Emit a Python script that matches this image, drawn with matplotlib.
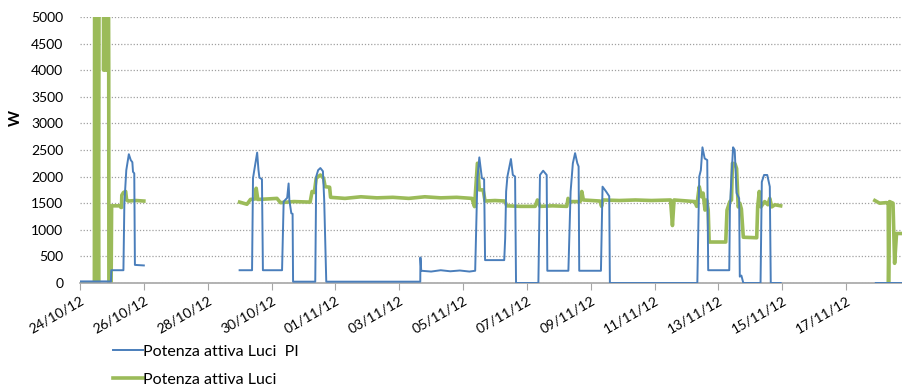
import matplotlib.pyplot as plt
import matplotlib.dates as mdates
import numpy as np
import pandas as pd

start = pd.Timestamp('2012-10-24')
nan = np.nan

# time in days since 24/10/12 00:00, NaN marks gaps in the logging
luci_pi_days = [0.0, 0.97, 0.98, 1.36, 1.39, 1.45, 1.53, 1.59, 1.64, 1.66, 1.70, 1.72, 2.00,
                nan,
                5.00, 5.39, 5.42, 5.46, 5.55, 5.59, 5.62, 5.70, 5.73, 6.33, 6.38, 6.49, 6.535, 6.56,
                6.62, 6.66, 6.675, 7.37, 7.40, 7.46, 7.53, 7.61, 7.65, 7.715, 10.66, 10.665, 10.69,
                11.0, 11.3, 11.6, 11.9, 12.2, 12.38, 12.45, 12.51, 12.59, 12.66, 12.69, 13.29, 13.32,
                13.35, 13.39, 13.50, 13.56, 13.63, 13.66, 14.36, 14.41, 14.51, 14.62, 14.64, 15.30,
                15.37, 15.44, 15.51, 15.58, 15.62, 15.64, 16.32, 16.37, 16.48, 16.58, 16.60, 19.34,
                19.40, 19.45, 19.50, 19.57, 19.65, 19.68, 20.34, 20.36, 20.41, 20.46, 20.51, 20.57,
                20.65, 20.67, 20.72, 20.78, 21.32, 21.36, 21.43, 21.53, 21.61, 21.64, 21.95,
                nan,
                24.93, 26.0]
luci_pi_w = [30, 30, 240, 240, 1500, 2120, 2420, 2310, 2270, 2090, 2060, 340, 330,
             nan,
             240, 240, 1970, 2120, 2450, 2130, 1980, 1950, 240, 240, 1530, 1600, 1870, 1550,
             1310, 1300, 25, 25, 2000, 2120, 2160, 2100, 1560, 25, 25, 480, 230,
             215, 240, 220, 235, 215, 230, 1970, 2360, 1970, 1950, 430, 430, 840,
             1720, 2000, 2330, 2030, 2000, 0, 0, 2030, 2110, 2030, 230, 230,
             1720, 2250, 2440, 2250, 2190, 230, 230, 1810, 1720, 1630, 0, 0,
             2000, 2120, 2550, 2340, 2310, 240, 240, 1400, 2000, 2550, 2500, 1690,
             1590, 120, 140, 0, 0, 1900, 2030, 2030, 1810, 0, 0,
             nan,
             0, 0]

luci_days = [0.0, 0.45, 0.46, 0.50, 0.54, 0.58, 0.60, 0.73, 0.74, 0.77, 0.80, 0.83, 0.86,
             0.885, 0.90, 0.905, 0.975, 0.99, 1.27, 1.28, 1.30, 1.31, 1.36, 1.43, 1.46, 1.51,
             1.75, 2.00,
             nan,
             5.00, 5.23, 5.34, 5.49, 5.52, 5.57, 5.9, 6.17, 6.28, 6.7, 7.21, 7.27, 7.34, 7.40,
             7.53, 7.63, 7.68, 7.82, 7.85, 8.3, 8.8, 9.3, 9.8, 10.3, 10.8, 11.3, 11.8, 12.28,
             12.36, 12.45, 12.51, 12.63, 12.69, 13.0, 13.31, 13.37, 13.8, 14.26, 14.33, 14.41,
             14.8, 15.25, 15.29, 15.35, 15.67, 15.72, 15.77, 16.29, 16.34, 16.38, 16.9, 17.4,
             17.9, 18.50, 18.56, 18.61, 19.26, 19.32, 19.40, 19.47, 19.52, 19.58, 19.63, 19.68,
             19.71, 20.23, 20.27, 20.36, 20.41, 20.44, 20.52, 20.57, 20.62, 20.67, 20.72, 20.78,
             21.20, 21.23, 21.28, 21.33, 21.45, 21.55, 21.61, 21.67, 21.77, 21.95,
             nan,
             24.90, 25.05, 25.26, 25.32, 25.33, 25.36, 25.47, 25.52, 25.58, 26.0]
luci_w = [0, 0, 7000, 0, 7000, 0, 7000, 7000, 4000, 7000, 4000, 7000, 4000,
          7000, 4000, 0, 0, 1450, 1450, 1420, 1420, 1650, 1700, 1720, 1560, 1540,
          1550, 1540,
          nan,
          1520, 1480, 1570, 1580, 1780, 1570, 1580, 1590, 1510, 1530, 1520, 1720, 1700, 1970,
          2030, 1970, 1810, 1800, 1610, 1590, 1620, 1600, 1610, 1590, 1620, 1600, 1610, 1590,
          1435, 2250, 1750, 1750, 1540, 1550, 1540, 1450, 1440, 1440, 1560, 1440,
          1450, 1440, 1590, 1530, 1530, 1720, 1560, 1540, 1440, 1560, 1550, 1560,
          1550, 1560, 1080, 1560, 1530, 1440, 1810, 1620, 1690, 1370, 1560, 1370,
          770, 770, 1370, 1530, 1560, 2250, 2240, 2150, 1430, 1500, 1390, 860,
          850, 1430, 1720, 1430, 1530, 1470, 1590, 1430, 1470, 1450,
          nan,
          1550, 1500, 1510, 1500, 0, 1530, 1500, 370, 930, 930]

tick_labels = ['24/10/12', '26/10/12', '28/10/12', '30/10/12', '01/11/12', '03/11/12',
               '05/11/12', '07/11/12', '09/11/12', '11/11/12', '13/11/12', '15/11/12',
               '17/11/12']

plt.rcParams['font.family'] = ['Lato', 'DejaVu Sans']

t0 = mdates.date2num(start)
x_pi = t0 + np.array(luci_pi_days)
x_luci = t0 + np.array(luci_days)

fig = plt.figure(figsize=(9.03, 3.89), dpi=100)
ax = fig.add_axes([0.0886, 0.2725, 0.912, 0.684])

ax.plot(x_pi, luci_pi_w, color='#4a7ebb', lw=1.4, label='Potenza attiva Luci  PI', zorder=3)
ax.plot(x_luci, luci_w, color='#9bbb59', lw=2.6, label='Potenza attiva Luci', zorder=2)

ax.set_ylim(0, 5000)
ax.set_xlim(t0, t0 + 25.8)
ax.set_yticks(np.arange(0, 5001, 500))
ax.yaxis.grid(True, color='#a0a0a0', linestyle=(0, (1, 1.5)), linewidth=0.9)
ax.set_axisbelow(True)

tick_pos = [mdates.date2num(pd.to_datetime(s, format='%d/%m/%y')) for s in tick_labels]
ax.set_xticks(tick_pos)
ax.set_xticklabels(tick_labels, rotation=30, ha='right', rotation_mode='anchor')

for side in ['left', 'right', 'top']:
    ax.spines[side].set_visible(False)
ax.spines['bottom'].set_color('#a6a6a6')
ax.spines['bottom'].set_linewidth(1.2)
ax.tick_params(axis='x', length=5, color='#a6a6a6', labelsize=10, pad=3)
ax.tick_params(axis='y', length=0, labelsize=10, pad=12)

ax.set_ylabel('W', fontsize=11, fontweight='bold')
ax.yaxis.set_label_coords(-0.069, 0.62)

fig.legend(loc='upper left', bbox_to_anchor=(0.118, 0.13), frameon=False,
           fontsize=11.5, handlelength=1.9, handletextpad=0.0, labelspacing=0.85,
           borderaxespad=0)

fig.savefig('out.png', dpi=100)
